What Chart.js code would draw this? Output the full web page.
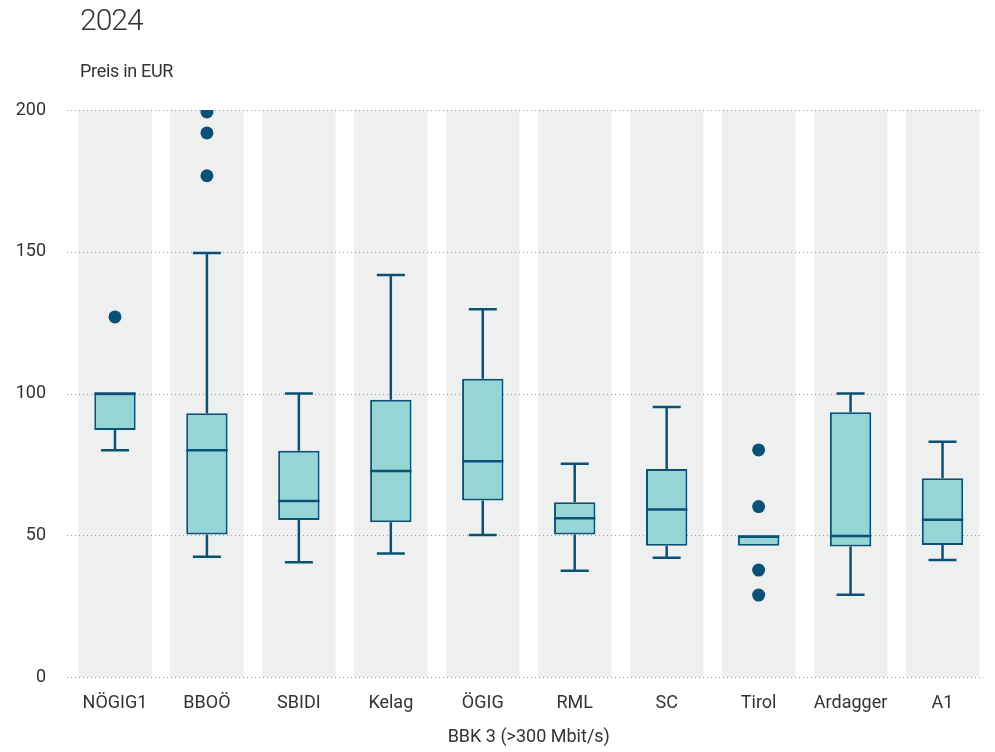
<!DOCTYPE html>
<html>
<head>
<meta charset="utf-8">
<script src="https://cdn.jsdelivr.net/npm/chart.js@4"></script>
<style>
  html, body { margin: 0; padding: 0; background: #fff; }
  #wrap { position: relative; width: 995px; height: 752px; }
  #chart { position: absolute; left: 0; top: 0; }
  .t { position: absolute; font-family: "Roboto", sans-serif; color: #333; white-space: nowrap; }
  #title { left: 80px; top: 2px; font-size: 30px; font-weight: 300; letter-spacing: -1px; }
  #sub { left: 80px; top: 60px; font-size: 18px; letter-spacing: -0.3px; }
</style>
</head>
<body>
<div id="wrap">
  <canvas id="chart" width="995" height="752"></canvas>
  <div id="title" class="t">2024</div>
  <div id="sub" class="t">Preis in EUR</div>
</div>
<script>
const categories = ["NÖGIG1", "BBOÖ", "SBIDI", "Kelag", "ÖGIG", "RML", "SC", "Tirol", "Ardagger", "A1"];
const whiskerLow = [80, 42.4, 40.5, 43.6, 50.1, 37.5, 42.1, 46.3, 29, 41.3];
const q1 = [87.1, 50.3, 55.4, 54.6, 62.3, 50.3, 46.3, 46.3, 46, 46.6];
const median = [100, 80, 62.1, 72.7, 76.1, 56.0, 59.1, 49.5, 49.7, 55.5];
const q3 = [100, 93, 79.8, 97.8, 105.2, 61.6, 73.4, 50, 93.4, 70.1];
const whiskerHigh = [100, 149.6, 100, 141.8, 129.7, 75.2, 95.2, 50, 100, 83];
const outlierCats = ["NÖGIG1", "BBOÖ", "BBOÖ", "BBOÖ", "Tirol", "Tirol", "Tirol", "Tirol"];
const outlierValues = [127, 199.3, 191.9, 176.8, 80.1, 60.1, 37.7, 28.9];
const yTicks = [0, 50, 100, 150, 200];
const xAxisTitle = "BBK 3 (>300 Mbit/s)";

const FONT = '"Roboto", sans-serif';
const DARK = '#0b5177';
const FILL = '#96d5d5';
const BAND = '#eef0ef';

const bandData = categories.map(() => [yTicks[0], yTicks[yTicks.length - 1]]);
const boxData = categories.map((c, i) => [q1[i], q3[i]]);
const outlierData = outlierCats.map((c, i) => ({ x: c, y: outlierValues[i] }));

const gridPlugin = {
  id: 'gridAfterBands',
  afterDatasetDraw(chart, args) {
    if (args.index !== 0) return;
    const { ctx, chartArea } = chart;
    const y = chart.scales.y;
    ctx.save();
    ctx.strokeStyle = '#9a9a9a';
    ctx.lineWidth = 1;
    ctx.setLineDash([1, 3]);
    yTicks.forEach(v => {
      const py = Math.round(y.getPixelForValue(v)) + 0.5;
      ctx.beginPath();
      ctx.moveTo(chartArea.left - 2, py);
      ctx.lineTo(chartArea.right - 5, py);
      ctx.stroke();
    });
    ctx.restore();
  }
};

const whiskerPlugin = {
  id: 'whiskers',
  afterDatasetDraw(chart, args) {
    if (args.index !== 1) return;
    const { ctx } = chart;
    const x = chart.scales.x, y = chart.scales.y;
    const boxMeta = chart.getDatasetMeta(1);
    ctx.save();
    ctx.strokeStyle = DARK;
    ctx.lineWidth = 2.5;
    ctx.lineCap = 'butt';
    categories.forEach((c, i) => {
      const cx = x.getPixelForValue(i);
      const bar = boxMeta.data[i];
      const half = bar.width / 2;
      const capHalf = 14;
      const pLow = y.getPixelForValue(whiskerLow[i]);
      const pHigh = y.getPixelForValue(whiskerHigh[i]);
      const pQ1 = y.getPixelForValue(q1[i]);
      const pQ3 = y.getPixelForValue(q3[i]);
      const pMed = y.getPixelForValue(median[i]);
      ctx.beginPath();
      if (whiskerLow[i] < q1[i]) {
        ctx.moveTo(cx, pQ1); ctx.lineTo(cx, pLow);
        ctx.moveTo(cx - capHalf, pLow); ctx.lineTo(cx + capHalf, pLow);
      }
      if (whiskerHigh[i] > q3[i]) {
        ctx.moveTo(cx, pQ3); ctx.lineTo(cx, pHigh);
        ctx.moveTo(cx - capHalf, pHigh); ctx.lineTo(cx + capHalf, pHigh);
      }
      ctx.moveTo(cx - half, pMed); ctx.lineTo(cx + half, pMed);
      ctx.stroke();
    });
    ctx.restore();
  }
};

new Chart(document.getElementById('chart'), {
  type: 'bar',
  data: {
    labels: categories,
    datasets: [
      {
        label: 'band',
        data: bandData,
        backgroundColor: BAND,
        borderWidth: 0,
        grouped: false,
        categoryPercentage: 1,
        barPercentage: 0.80,
        order: 3
      },
      {
        label: 'box',
        data: boxData,
        backgroundColor: FILL,
        borderColor: DARK,
        borderWidth: 2,
        borderSkipped: false,
        grouped: false,
        categoryPercentage: 1,
        barPercentage: 0.45,
        order: 2
      },
      {
        type: 'line',
        label: 'outliers',
        data: outlierData,
        showLine: false,
        pointRadius: 6.5,
        pointBackgroundColor: DARK,
        pointBorderWidth: 0,
        order: 1
      }
    ]
  },
  options: {
    responsive: false,
    animation: false,
    events: [],
    layout: { padding: { top: 110, right: 5, left: 0, bottom: 0 } },
    plugins: { legend: { display: false }, tooltip: { enabled: false } },
    scales: {
      x: {
        grid: { display: false, drawTicks: false },
        border: { display: false },
        ticks: { color: '#333', font: { family: FONT, size: 18 }, padding: 16, maxRotation: 0 },
        title: { display: true, text: xAxisTitle, color: '#333', font: { family: FONT, size: 18 }, padding: { top: 0, bottom: 4 } },
        afterFit(s) { s.height = 75; }
      },
      y: {
        min: 0, max: 200,
        grid: { display: false, drawTicks: false },
        border: { display: false },
        afterBuildTicks(s) { s.ticks = yTicks.map(v => ({ value: v })); },
        ticks: { color: '#333', font: { family: FONT, size: 18 }, padding: 23 },
        afterFit(s) { s.width = 69; }
      }
    }
  },
  plugins: [gridPlugin, whiskerPlugin]
});
</script>
</body>
</html>
